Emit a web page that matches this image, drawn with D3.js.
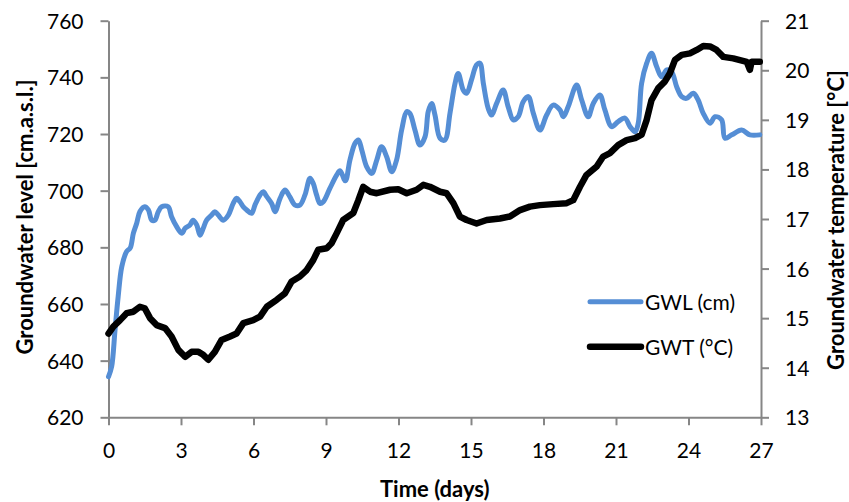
<!DOCTYPE html>
<html>
<head>
<meta charset="utf-8">
<script src="https://cdn.jsdelivr.net/npm/d3@7"></script>
<style>
  html, body { margin: 0; padding: 0; background: #fff; }
  svg { display: block; }
  text { font-family: Lato, "Open Sans", sans-serif; fill: #000; }
</style>
</head>
<body>
<svg id="chart" width="849" height="502"></svg>
<script>
// Groundwater level (cm a.s.l.) over time (days)
const gwlDays = [0,0.13,0.27,0.4,0.55,0.75,0.9,1.03,1.17,1.3,1.5,1.65,1.79,1.92,2.06,2.2,2.47,2.61,2.82,3.03,3.17,3.37,3.5,3.65,3.79,3.92,4.06,4.27,4.4,4.54,4.75,4.96,5.16,5.3,5.44,5.58,5.72,5.92,6.06,6.27,6.4,6.55,6.75,6.89,7.1,7.3,7.5,7.72,7.92,8.13,8.34,8.47,8.61,8.75,8.89,9.16,9.44,9.58,9.8,9.99,10.2,10.34,10.48,10.68,10.89,11.1,11.3,11.51,11.72,11.92,12.13,12.34,12.47,12.68,12.89,13.1,13.23,13.37,13.51,13.72,13.92,14.13,14.34,14.47,14.68,14.82,15.02,15.23,15.37,15.51,15.71,15.85,16.06,16.33,16.54,16.75,16.95,17.16,17.37,17.58,17.85,18.13,18.4,18.68,18.82,19.02,19.37,19.58,19.85,20.06,20.33,20.54,20.82,21.09,21.37,21.58,21.79,21.92,22.06,22.27,22.47,22.68,22.89,23.1,23.3,23.51,23.72,23.92,24.2,24.4,24.61,24.89,25.1,25.37,25.51,25.79,26.2,26.54,26.95];
const gwlValues = [634.3,637.9,650.8,662.6,673.2,678.5,679.8,685,688.6,692.6,694.3,693.2,689.6,689.6,692.6,694.3,694.3,690.8,687.3,685,686.7,687.9,689.6,687.9,684.3,686.7,689.6,691.4,692.6,691.4,689.6,691.4,695.5,697.3,696.1,694.3,693.2,692,694.9,698.5,699.6,697.9,695.5,692.6,697.3,700.2,697.9,694.9,694.9,698.5,704.4,702.6,698.5,695.5,696.1,700.8,705.5,707,703.5,710.8,716.7,717.9,714.4,708.5,706.1,710.8,715.5,712,706.7,710.8,721.4,727.9,727.3,721.4,716.1,719.1,727.9,730.8,726.7,718.5,717.9,727.3,737.9,741.4,735.5,734.4,739.1,744.4,745,737.9,729.1,726.7,730.8,735.5,729.6,725,726.1,731.4,733.2,727.3,721.4,726.7,730.2,728.5,726.1,729.6,737.3,732,726.1,730.8,733.8,728.5,722.6,724.4,725.6,722.6,720.8,723.8,737.9,745,748.5,743.8,740.2,742.6,742,736.7,733.2,732.6,734.4,732,727.3,723.8,726.1,725,718.5,719.7,721.4,719.7,719.7];

// Groundwater temperature (°C) over time (days)
const gwtDays = [0,0.2,0.48,0.75,1.03,1.3,1.5,1.72,1.99,2.34,2.61,2.89,3.17,3.44,3.72,3.92,4.13,4.4,4.68,5.03,5.3,5.58,5.99,6.27,6.55,6.96,7.3,7.58,7.92,8.2,8.47,8.68,9.03,9.23,9.44,9.71,10.13,10.34,10.54,10.82,11.1,11.65,11.99,12.34,12.75,13.03,13.3,13.72,13.99,14.27,14.54,14.82,15.23,15.65,16.2,16.61,17.03,17.44,17.85,18.4,18.96,19.23,19.51,19.78,20.2,20.47,20.75,21.09,21.44,21.79,22.06,22.27,22.47,22.75,23.02,23.23,23.44,23.72,24.06,24.34,24.61,24.89,25.16,25.44,25.85,26.41,26.54,26.61,26.95];
const gwtValues = [14.69,14.83,14.96,15.1,15.13,15.23,15.2,15.0,14.86,14.8,14.63,14.36,14.22,14.32,14.32,14.26,14.16,14.32,14.56,14.63,14.69,14.9,14.96,15.03,15.23,15.37,15.5,15.74,15.84,15.97,16.17,16.38,16.41,16.51,16.71,16.98,17.12,17.38,17.65,17.55,17.52,17.59,17.6,17.52,17.59,17.69,17.65,17.55,17.52,17.32,17.05,16.98,16.91,16.98,17.01,17.05,17.18,17.25,17.28,17.3,17.32,17.38,17.65,17.89,18.06,18.26,18.33,18.49,18.59,18.63,18.7,19.0,19.4,19.64,19.77,19.94,20.21,20.31,20.34,20.41,20.49,20.48,20.41,20.27,20.24,20.17,20.01,20.17,20.17];

const xTicks = [0,3,6,9,12,15,18,21,24,27];
const levelTicks = [620,640,660,680,700,720,740,760];
const tempTicks = [13,14,15,16,17,18,19,20,21];

const seriesNames = ["GWL (cm)", "GWT (°C)"];
const axisTitles = { x: "Time (days)", left: "Groundwater level [cm.a.s.l.]", right: "Groundwater temperature [°C]" };

const svg = d3.select("#chart");
const plot = { left: 108.5, right: 761, top: 20.7, bottom: 417.3 };
const axisColor = "#868686";
const fontSize = 21;
const titleSize = 22;

const x = d3.scaleLinear().domain([0, 27]).range([plot.left, plot.right]);
const yL = d3.scaleLinear().domain([620, 760]).range([plot.bottom, plot.top]);
const yR = d3.scaleLinear().domain([13, 21]).range([plot.bottom, plot.top]);

function styleAxis(g) {
  g.selectAll(".domain").attr("stroke", axisColor).attr("stroke-width", 2);
  g.selectAll(".tick line").attr("stroke", axisColor).attr("stroke-width", 2);
  g.selectAll(".tick text").attr("font-size", fontSize).attr("font-family", "Lato, sans-serif").attr("fill", "#000");
}

// x axis
const gx = svg.append("g").attr("transform", `translate(0,${plot.bottom})`)
  .call(d3.axisBottom(x).tickValues(xTicks).tickSize(8).tickSizeOuter(0).tickPadding(0));
styleAxis(gx);
gx.selectAll(".tick text").attr("dy", null).attr("y", 41);

// left axis
const gl = svg.append("g").attr("transform", `translate(${plot.left},0)`)
  .call(d3.axisLeft(yL).tickValues(levelTicks).tickSize(8).tickSizeOuter(0).tickPadding(0));
styleAxis(gl);
gl.selectAll(".tick text").attr("x", -25).attr("dy", "0.36em");

// right axis
const gr = svg.append("g").attr("transform", `translate(${plot.right},0)`)
  .call(d3.axisRight(yR).tickValues(tempTicks).tickSize(8).tickSizeOuter(0).tickPadding(0));
styleAxis(gr);
gr.selectAll(".tick text").attr("x", 24).attr("dy", "0.36em");

// series lines
const gwl = gwlDays.map((d, i) => [d, gwlValues[i]]);
const gwt = gwtDays.map((d, i) => [d, gwtValues[i]]);

const lineL = d3.line().x(d => x(d[0])).y(d => yL(d[1])).curve(d3.curveCatmullRom.alpha(0.5));
const lineR = d3.line().x(d => x(d[0])).y(d => yR(d[1])).curve(d3.curveLinear);

svg.append("path").datum(gwl).attr("d", lineL)
  .attr("fill", "none").attr("stroke", "#558ed5").attr("stroke-width", 5)
  .attr("stroke-linejoin", "round").attr("stroke-linecap", "round");
svg.append("path").datum(gwt).attr("d", lineR)
  .attr("fill", "none").attr("stroke", "#000").attr("stroke-width", 6.5)
  .attr("stroke-linejoin", "round").attr("stroke-linecap", "round");

// legend
const legend = svg.append("g");
const legendItems = [
  { name: seriesNames[0], color: "#558ed5", width: 5, y: 301.7 },
  { name: seriesNames[1], color: "#000", width: 6.5, y: 346.7 }
];
legendItems.forEach(it => {
  legend.append("line").attr("x1", 590).attr("x2", 641).attr("y1", it.y).attr("y2", it.y)
    .attr("stroke", it.color).attr("stroke-width", it.width).attr("stroke-linecap", "round");
  legend.append("text").attr("x", 645).attr("y", it.y + 8).attr("font-size", fontSize).text(it.name);
});

// axis titles
svg.append("text").attr("x", (plot.left + plot.right) / 2).attr("y", 496.5)
  .attr("text-anchor", "middle").attr("font-size", titleSize).attr("font-weight", "bold").text(axisTitles.x);
svg.append("text").attr("transform", `translate(33,${(plot.top + plot.bottom) / 2 - 2}) rotate(-90)`)
  .attr("text-anchor", "middle").attr("font-size", titleSize).attr("font-weight", "bold").text(axisTitles.left);
svg.append("text").attr("transform", `translate(844,${(plot.top + plot.bottom) / 2 + 1}) rotate(-90)`)
  .attr("text-anchor", "middle").attr("font-size", titleSize).attr("font-weight", "bold").text(axisTitles.right);
</script>
</body>
</html>
